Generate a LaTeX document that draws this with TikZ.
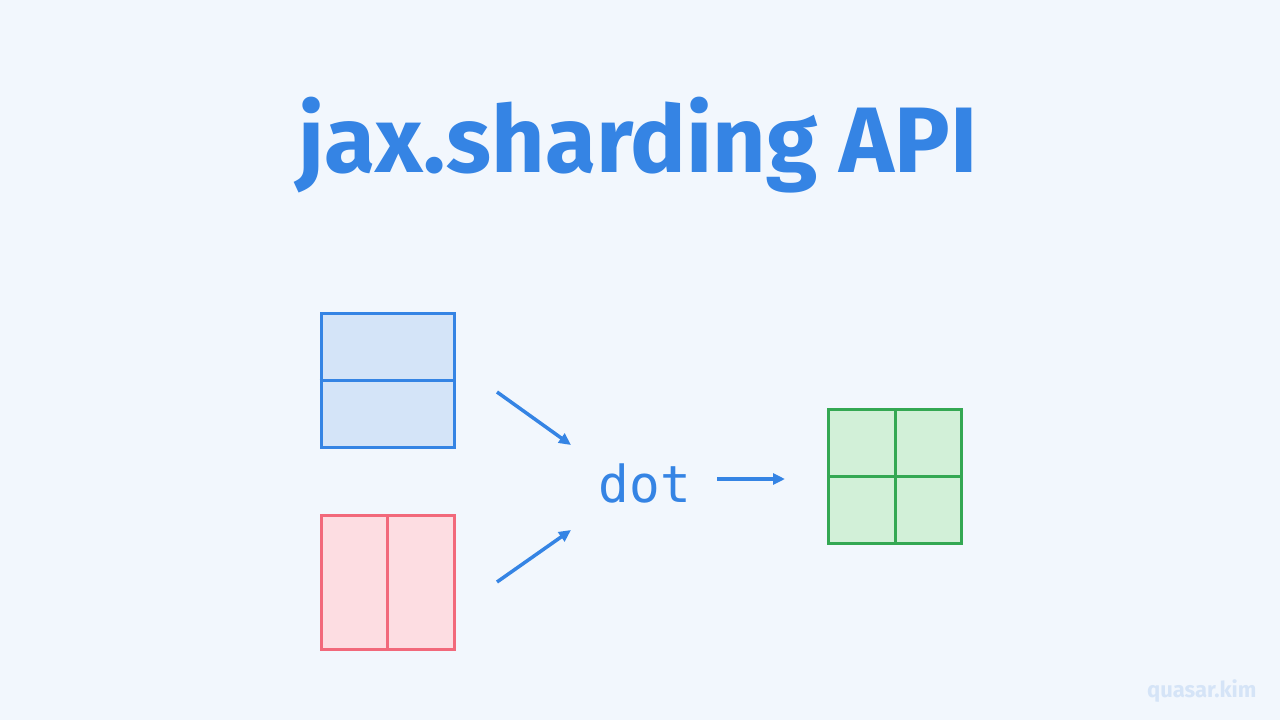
\documentclass[tikz,border=0pt]{standalone}
\usepackage{fontspec}
\setmainfont{Fira Sans}
\newfontfamily\monofam{DejaVu Sans Mono}
\usetikzlibrary{arrows.meta}
\definecolor{bg}{HTML}{F2F7FD}
\definecolor{accent}{HTML}{3584E4}
\definecolor{bluefill}{HTML}{D4E4F8}
\definecolor{redline}{HTML}{F2697B}
\definecolor{redfill}{HTML}{FDDDE2}
\definecolor{greenline}{HTML}{34A853}
\definecolor{greenfill}{HTML}{D2F0D8}
\definecolor{mark}{HTML}{D5E4F7}
\tikzset{
  grid/.style={line width=3pt, minimum width=133pt, minimum height=134pt, inner sep=0pt, draw},
  flow/.style={accent, line width=3.5pt, -{Triangle[length=12pt,width=11pt]}},
}
\begin{document}
\begin{tikzpicture}[x=1pt,y=-1pt]
\fill[bg] (0,0) rectangle (1280,720);
\useasboundingbox (0,0) rectangle (1280,720);
\node[anchor=base, text=accent, font=\fontsize{93}{96}\selectfont\bfseries] (title) at (638,172) {jax.sharding API};
\node[grid, draw=accent, fill=bluefill] (A) at (387.5,380.5) {};
\draw[accent, line width=3pt] (A.west) -- (A.east);
\node[grid, draw=redline, fill=redfill] (B) at (387.5,582.5) {};
\draw[redline, line width=3pt] (B.north) -- (B.south);
\node[grid, draw=greenline, fill=greenfill] (C) at (895,476.5) {};
\draw[greenline, line width=3pt] (C.west) -- (C.east);
\draw[greenline, line width=3pt] (C.north) -- (C.south);
\node[text=accent, font=\monofam\fontsize{51}{56}\selectfont, inner sep=0pt] (dot) at (645,483) {dot};
\coordinate (a1) at (497,392); \coordinate (a2) at (571,445);
\coordinate (b1) at (497,582); \coordinate (b2) at (571,530);
\coordinate (c1) at (717,479); \coordinate (c2) at (785,479);
\draw[flow] (a1) -- (a2);
\draw[flow] (b1) -- (b2);
\draw[flow] (c1) -- (c2);
\node[anchor=base east, text=mark, font=\fontsize{22}{24}\selectfont\bfseries] (wm) at (1260,697) {quasar.kim};
\end{tikzpicture}
\end{document}
